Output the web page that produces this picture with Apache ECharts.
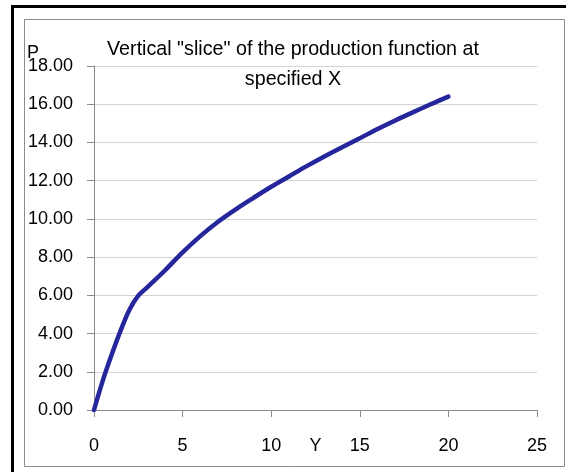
<!DOCTYPE html>
<html>
<head>
<meta charset="utf-8">
<script src="https://cdn.jsdelivr.net/npm/echarts@6/dist/echarts.min.js"></script>
<style>
html,body{margin:0;padding:0;background:#fff;}
#chart{width:566px;height:472px;}
</style>
</head>
<body>
<div id="chart"></div>
<script>
// Data
var titleLines = ['Vertical "slice" of the production function at', 'specified X'];
var xName = 'Y';
var yName = 'P';
var yValues = [0, 0.5, 1, 1.5, 2, 2.5, 3, 4, 5, 6, 7, 8, 9, 10, 11, 12, 13, 14, 15, 16, 17, 18, 19, 20];
var pValues = [0, 1.55, 2.9, 4.15, 5.25, 5.98, 6.42, 7.3, 8.25, 9.1, 9.85, 10.5, 11.1, 11.68, 12.22, 12.76, 13.27, 13.75, 14.22, 14.7, 15.15, 15.58, 16.0, 16.4];
var xTicks = {min: 0, max: 25, interval: 5};
var yTicks = {min: 0, max: 18, interval: 2};

var seriesData = yValues.map(function (v, i) { return [v, pValues[i]]; });

var font = '"Liberation Sans", Arial, sans-serif';
var chart = echarts.init(document.getElementById('chart'), null, {renderer: 'canvas'});
chart.setOption({
  backgroundColor: '#ffffff',
  animation: false,
  title: {
    text: titleLines.join('\n'),
    left: 293,
    top: 35,
    padding: 0,
    textAlign: 'center',
    textStyle: {fontFamily: font, fontSize: 19.7, fontWeight: 'normal', color: '#000', lineHeight: 30}
  },
  grid: {left: 94, right: 29, top: 66, bottom: 62, containLabel: false},
  xAxis: {
    type: 'value',
    min: xTicks.min, max: xTicks.max, interval: xTicks.interval,
    name: xName,
    nameLocation: 'middle',
    nameGap: 27,
    nameMoveOverlap: false,
    nameTextStyle: {fontFamily: font, fontSize: 18, color: '#000', verticalAlign: 'top'},
    axisLine: {show: true, lineStyle: {color: '#8a8a8a', width: 1}},
    axisTick: {show: true, inside: false, length: 7, lineStyle: {color: '#8a8a8a'}},
    axisLabel: {margin: 27, fontFamily: font, fontSize: 18, color: '#000'},
    splitLine: {show: false}
  },
  yAxis: {
    type: 'value',
    min: yTicks.min, max: yTicks.max, interval: yTicks.interval,
    name: yName,
    nameLocation: 'end',
    nameGap: 4,
    nameMoveOverlap: false,
    nameTextStyle: {fontFamily: font, fontSize: 18, color: '#000', align: 'right', padding: [0, 55, 0, 0]},
    axisLine: {show: true, lineStyle: {color: '#8a8a8a', width: 1}},
    axisTick: {show: true, inside: false, length: 7, lineStyle: {color: '#8a8a8a'}},
    axisLabel: {margin: 21, fontFamily: font, fontSize: 18, color: '#000',
      formatter: function (v) { return v.toFixed(2); }},
    splitLine: {show: true, lineStyle: {color: '#d3d3d3', width: 1.2}}
  },
  series: [{
    type: 'line',
    data: seriesData,
    smooth: 0.35,
    showSymbol: false,
    symbol: 'none',
    lineStyle: {color: '#26269c', width: 4.5, cap: 'round', join: 'round'},
    z: 3
  }],
  graphic: [
    {type: 'rect', silent: true, z: 100, shape: {x: 24.5, y: 19.5, width: 540, height: 447},
      style: {fill: 'none', stroke: '#8c8c8c', lineWidth: 1}},
    {type: 'rect', silent: true, z: 101, shape: {x: 11, y: 5, width: 555, height: 3},
      style: {fill: '#000'}},
    {type: 'rect', silent: true, z: 101, shape: {x: 11, y: 5, width: 3, height: 467},
      style: {fill: '#000'}}
  ]
});
</script>
</body>
</html>
